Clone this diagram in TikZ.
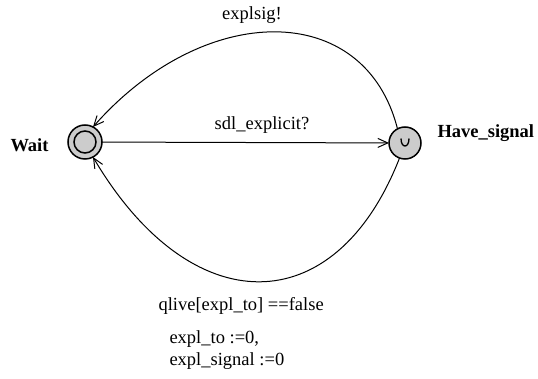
\documentclass[tikz,border=0pt]{standalone}
\usepackage{fontspec}
\setmainfont{Liberation Serif}
\usetikzlibrary{arrows.meta}
\begin{document}
\begin{tikzpicture}[x=1pt,y=-1pt,line width=1pt,font=\fontsize{18.5}{22}\selectfont,
  loc/.style={circle,draw,line width=1.5pt,fill=black!20,inner sep=0pt,outer sep=0pt},
  edge/.style={-{Straight Barb[length=10pt,width=9pt]}}]
\useasboundingbox (0,0) rectangle (538,379);
\node[loc,minimum size=34pt] (wait) at (85,142) {};
\draw[line width=1.5pt] (wait) circle[radius=11];
\node[loc,minimum size=32pt] (have) at (405,143) {};
\draw[line width=1.3pt] (401,138.5) .. controls (401,148.5) and (409,148.5) .. (409,138.5);
\node[anchor=base west,inner sep=0pt] (waitname) at (10,152) {\bfseries Wait};
\node[anchor=base west,inner sep=0pt] (havename) at (437,138) {\bfseries Have\_signal};
\draw[edge] (wait) -- (have);
\draw[edge] (have.118) .. controls (365,0) and (205,0) .. (wait.62);
\draw[edge] (have.-110) .. controls (335,323) and (191,323) .. (wait.-62);
\node[anchor=base,inner sep=0pt] (sync1) at (252,20) {explsig!};
\node[anchor=base,inner sep=0pt] (sync2) at (262,130) {sdl\_explicit?};
\node[anchor=base west,inner sep=0pt] (guard) at (158,310) {qlive[expl\_to] ==false};
\node[anchor=base west,inner sep=0pt] (assign1) at (169,343) {expl\_to :=0,};
\node[anchor=base west,inner sep=0pt] (assign2) at (169,365) {expl\_signal :=0};
\end{tikzpicture}
\end{document}
